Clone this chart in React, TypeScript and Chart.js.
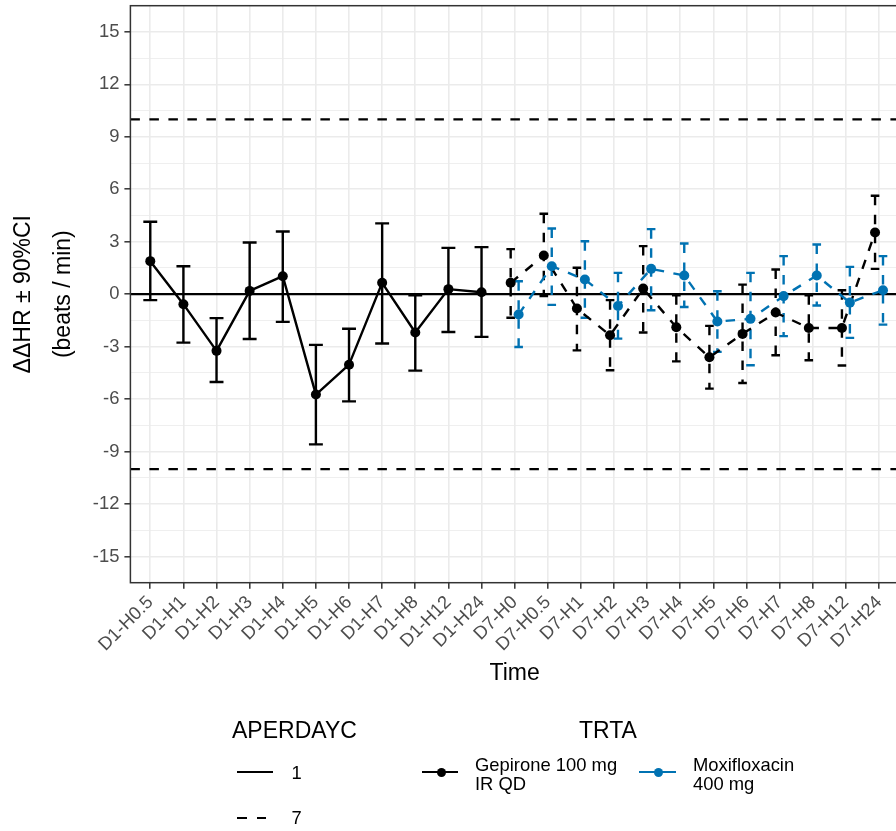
import React, { useEffect, useRef } from 'react';
import { Chart, registerables } from 'chart.js';

Chart.register(...registerables);

// ---------- data ----------
const d1Times = ['D1-H0.5', 'D1-H1', 'D1-H2', 'D1-H3', 'D1-H4', 'D1-H5', 'D1-H6', 'D1-H7', 'D1-H8', 'D1-H12', 'D1-H24'];
const d7Times = ['D7-H0', 'D7-H0.5', 'D7-H1', 'D7-H2', 'D7-H3', 'D7-H4', 'D7-H5', 'D7-H6', 'D7-H7', 'D7-H8', 'D7-H12', 'D7-H24'];
const categories = [...d1Times, ...d7Times];

const gepD1Mean = [1.89, -0.57, -3.24, 0.19, 1.03, -5.74, -4.03, 0.65, -2.19, 0.29, 0.11];
const gepD1Lower = [-0.34, -2.77, -5.02, -2.56, -1.58, -8.59, -6.13, -2.82, -4.37, -2.16, -2.44];
const gepD1Upper = [4.14, 1.6, -1.37, 2.96, 3.59, -2.9, -1.98, 4.05, -0.06, 2.65, 2.69];

const gepD7Mean = [0.65, 2.21, -0.82, -2.35, 0.32, -1.89, -3.61, -2.27, -1.05, -1.93, -1.93, 3.53];
const gepD7Lower = [-1.35, -0.1, -3.21, -4.35, -2.19, -3.84, -5.4, -5.08, -3.49, -3.78, -4.08, 1.45];
const gepD7Upper = [2.58, 4.6, 1.51, -0.34, 2.75, -0.06, -1.81, 0.55, 1.41, -0.06, 0.23, 5.63];

const moxD7Mean = [-1.16, 1.6, 0.84, -0.67, 1.45, 1.07, -1.56, -1.41, -0.11, 1.07, -0.48, 0.23];
const moxD7Lower = [-3.02, -0.61, -1.35, -2.54, -0.92, -0.73, -3.3, -4.06, -2.4, -0.65, -2.5, -1.74];
const moxD7Upper = [0.74, 3.76, 3.03, 1.22, 3.72, 2.9, 0.17, 1.22, 2.18, 2.84, 1.56, 2.18];

const yMin = -16.5;
const yMax = 16.5;
const yMajorStep = 3;
const refLines = [-10, 10];
const zeroLine = 0;

const yTitle = ['ΔΔHR ± 90%CI', '(beats / min)'];
const xTitle = 'Time';
const linetypeTitle = 'APERDAYC';
const linetypeLabels = ['1', '7'];
const colourTitle = 'TRTA';
const colourLabels = [['Gepirone 100 mg', 'IR QD'], ['Moxifloxacin', '400 mg']];

// ---------- style ----------
const BLACK = '#000000';
const BLUE = '#0072B2';
const FONT = "'Liberation Sans', Arial, sans-serif";
const DASH = [9.5, 9.5];
const DODGE = 0.12;
const CAP_D1 = 0.21;
const CAP_D7 = 0.13;
const LINE_W = 2.4;
const POINT_R = 5;

type Group = {
  times: string[];
  mean: number[];
  lower: number[];
  upper: number[];
  color: string;
  dashed: boolean;
  offset: number;
  cap: number;
};

const groups: Group[] = [
  { times: d1Times, mean: gepD1Mean, lower: gepD1Lower, upper: gepD1Upper, color: BLACK, dashed: false, offset: 0, cap: CAP_D1 },
  { times: d7Times, mean: gepD7Mean, lower: gepD7Lower, upper: gepD7Upper, color: BLACK, dashed: true, offset: -DODGE, cap: CAP_D7 },
  { times: d7Times, mean: moxD7Mean, lower: moxD7Lower, upper: moxD7Upper, color: BLUE, dashed: true, offset: DODGE, cap: CAP_D7 },
];

const pts = (g: Group) => g.times.map((t, i) => ({ x: categories.indexOf(t) + g.offset, y: g.mean[i] }));

const isMajor = (v: number) => v !== undefined && Math.abs(v / yMajorStep - Math.round(v / yMajorStep)) < 1e-6;

const errorBarPlugin = {
  id: 'ggExtras',
  beforeDatasetsDraw(chart: any) {
    const { ctx, chartArea, scales } = chart;
    const x = scales.x;
    const y = scales.y;
    ctx.save();
    ctx.beginPath();
    ctx.rect(chartArea.left, chartArea.top, chartArea.right - chartArea.left, chartArea.bottom - chartArea.top);
    ctx.clip();
    ctx.lineCap = 'butt';
    // reference lines
    ctx.strokeStyle = BLACK;
    ctx.lineWidth = 2.2;
    ctx.setLineDash(DASH);
    refLines.forEach((v) => {
      const py = y.getPixelForValue(v);
      ctx.beginPath();
      ctx.moveTo(chartArea.left, py);
      ctx.lineTo(chartArea.right, py);
      ctx.stroke();
    });
    ctx.setLineDash([]);
    const pz = y.getPixelForValue(zeroLine);
    ctx.beginPath();
    ctx.moveTo(chartArea.left, pz);
    ctx.lineTo(chartArea.right, pz);
    ctx.stroke();
    // error bars
    groups.forEach((g) => {
      ctx.strokeStyle = g.color;
      ctx.lineWidth = LINE_W;
      ctx.setLineDash(g.dashed ? DASH : []);
      g.times.forEach((t, i) => {
        const xv = categories.indexOf(t) + g.offset;
        const cx = x.getPixelForValue(xv);
        const half = x.getPixelForValue(xv + g.cap) - cx;
        const yu = y.getPixelForValue(g.upper[i]);
        const yl = y.getPixelForValue(g.lower[i]);
        const seg = (x1: number, y1: number, x2: number, y2: number) => {
          ctx.beginPath();
          ctx.moveTo(x1, y1);
          ctx.lineTo(x2, y2);
          ctx.stroke();
        };
        seg(cx - half, yu, cx + half, yu);
        seg(cx, yu, cx, yl);
        seg(cx - half, yl, cx + half, yl);
      });
    });
    ctx.restore();
  },
  afterDatasetsDraw(chart: any) {
    const { ctx, chartArea } = chart;
    ctx.save();
    ctx.strokeStyle = '#333333';
    ctx.lineWidth = 1.5;
    ctx.setLineDash([]);
    ctx.strokeRect(chartArea.left, chartArea.top, chartArea.right - chartArea.left, chartArea.bottom - chartArea.top);
    ctx.restore();
  },
};

export default function App() {
  const ref = useRef<HTMLCanvasElement>(null);

  useEffect(() => {
    const canvas = ref.current;
    if (!canvas) return;
    const lineSets = groups.map((g, k) => ({
      data: pts(g),
      borderColor: g.color,
      backgroundColor: g.color,
      borderWidth: LINE_W,
      borderDash: g.dashed ? DASH : [],
      borderCapStyle: 'butt',
      borderJoinStyle: 'round',
      pointRadius: 0,
      pointHoverRadius: 0,
      showLine: true,
      tension: 0,
      fill: false,
      order: 20 - k,
    }));
    const pointSets = groups.map((g, k) => ({
      data: pts(g),
      borderColor: g.color,
      backgroundColor: g.color,
      pointBackgroundColor: g.color,
      pointBorderColor: g.color,
      pointBorderWidth: 0,
      pointRadius: POINT_R,
      pointHoverRadius: POINT_R,
      showLine: false,
      order: 10 - k,
    }));
    const chart = new Chart(canvas, {
      type: 'line',
      data: { datasets: [...lineSets, ...pointSets] as any },
      plugins: [errorBarPlugin],
      options: {
        animation: false,
        responsive: false,
        devicePixelRatio: 1,
        events: [],
        layout: { padding: { left: 0, top: 5.7, right: 21.1, bottom: 128.3 } },
        plugins: { legend: { display: false }, tooltip: { enabled: false } },
        scales: {
          x: {
            type: 'linear',
            min: -0.6,
            max: categories.length - 0.4,
            afterFit: (s: any) => {
              s.height = 120;
              s.paddingLeft = 0;
              s.paddingRight = 0;
              s.paddingTop = 0;
              s.paddingBottom = 0;
            },
            border: { display: false },
            grid: { color: '#EBEBEB', lineWidth: 1.6, tickLength: 6, tickColor: '#333333', tickWidth: 1.5 },
            ticks: {
              stepSize: 1,
              includeBounds: false,
              autoSkip: false,
              minRotation: 45,
              maxRotation: 45,
              padding: 3,
              color: '#4D4D4D',
              font: { family: FONT, size: 18.4 },
              callback: (v: any) => (Number.isInteger(v) && categories[v] !== undefined ? categories[v] : ''),
            },
            title: {
              display: true,
              text: xTitle,
              color: '#000000',
              font: { family: FONT, size: 23 },
              padding: { top: 4, bottom: 15.6 },
            },
          },
          y: {
            type: 'linear',
            min: yMin,
            max: yMax,
            afterFit: (s: any) => {
              s.width = 130.4;
              s.paddingLeft = 0;
              s.paddingRight = 0;
              s.paddingTop = 0;
              s.paddingBottom = 0;
            },
            border: { display: false },
            grid: {
              color: '#EBEBEB',
              lineWidth: (c: any) => (c.tick && isMajor(c.tick.value) ? 1.6 : 0.8),
              tickLength: 6,
              tickColor: (c: any) => (c.tick && isMajor(c.tick.value) ? '#333333' : 'rgba(0,0,0,0)'),
              tickWidth: 1.5,
            },
            ticks: {
              stepSize: 1.5,
              includeBounds: false,
              autoSkip: false,
              padding: 5,
              color: '#4D4D4D',
              font: { family: FONT, size: 18.4 },
              callback: (v: any) => (isMajor(v) ? String(Math.round(v)) : ''),
            },
            title: {
              display: true,
              text: yTitle,
              color: '#000000',
              font: { family: FONT, size: 23, lineHeight: 1.739 },
              padding: { top: 4, bottom: 0 },
            },
          },
        },
      } as any,
    });
    return () => chart.destroy();
  }, []);

  const txt = (extra: React.CSSProperties): React.CSSProperties => ({
    position: 'absolute',
    fontFamily: FONT,
    color: '#000',
    whiteSpace: 'nowrap',
    ...extra,
  });
  const bar = (left: number, top: number, width: number, color: string): React.CSSProperties => ({
    position: 'absolute',
    left,
    top,
    width,
    height: 2,
    background: color,
  });
  const dot = (cx: number, cy: number, color: string): React.CSSProperties => ({
    position: 'absolute',
    left: cx - 4.5,
    top: cy - 4.5,
    width: 9,
    height: 9,
    borderRadius: '50%',
    background: color,
  });

  return (
    <div style={{ position: 'absolute', left: 0, top: 0, width: 896, height: 831, overflow: 'hidden', background: '#fff' }}>
      <canvas ref={ref} width={920} height={831} style={{ position: 'absolute', left: 0, top: 0, width: 920, height: 831 }} />
      {/* linetype legend */}
      <div style={txt({ left: 232, top: 718.8, fontSize: 23, lineHeight: '23px' })}>{linetypeTitle}</div>
      <div style={bar(237, 771, 36, BLACK)} />
      <div style={txt({ left: 291.5, top: 763.8, fontSize: 18.4, lineHeight: '18.4px' })}>{linetypeLabels[0]}</div>
      <div style={bar(237, 817, 9.5, BLACK)} />
      <div style={bar(256.5, 817, 9.5, BLACK)} />
      <div style={txt({ left: 291.5, top: 808.8, fontSize: 18.4, lineHeight: '18.4px' })}>{linetypeLabels[1]}</div>
      {/* colour legend */}
      <div style={txt({ left: 579, top: 718.8, fontSize: 23, lineHeight: '23px' })}>{colourTitle}</div>
      <div style={bar(422, 771, 36, BLACK)} />
      <div style={dot(441, 772, BLACK)} />
      <div style={txt({ left: 475, top: 754.7, fontSize: 18.4, lineHeight: '19.3px' })}>
        {colourLabels[0][0]}
        <br />
        {colourLabels[0][1]}
      </div>
      <div style={bar(639, 771, 37, BLUE)} />
      <div style={dot(658, 772, BLUE)} />
      <div style={txt({ left: 693, top: 754.7, fontSize: 18.4, lineHeight: '19.3px' })}>
        {colourLabels[1][0]}
        <br />
        {colourLabels[1][1]}
      </div>
    </div>
  );
}
